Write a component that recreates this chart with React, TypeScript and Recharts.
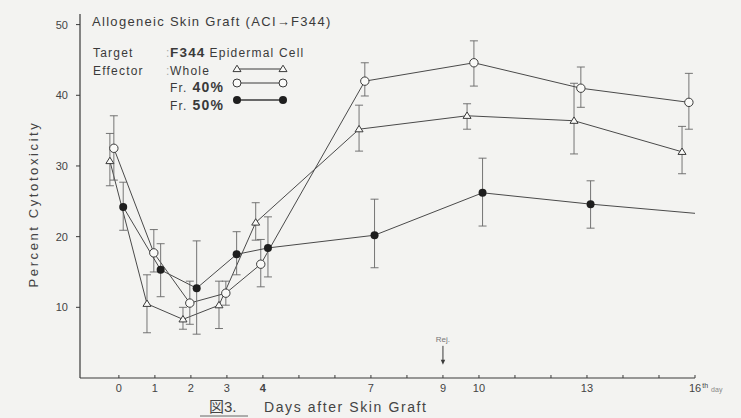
import React from "react";
import {
  ComposedChart,
  Line,
  XAxis,
  YAxis,
  ErrorBar,
  Legend,
  ReferenceDot,
} from "recharts";

// Whole effector cells (open triangles)
const wholeDays = [-0.25, 0.78, 1.78, 2.78, 3.8, 6.67, 9.67, 12.64, 15.64];
const wholeValues = [30.7, 10.5, 8.3, 10.3, 22.0, 35.2, 37.1, 36.4, 32.0];
const wholeLow = [27.2, 6.4, 6.9, 7.0, 19.5, 32.1, 35.2, 31.7, 28.9];
const wholeHigh = [34.6, 14.6, 10.0, 13.7, 24.8, 38.6, 38.8, 41.7, 35.6];

// Fr. 40% (open circles)
const fr40Days = [-0.14, 0.97, 1.97, 2.97, 3.94, 6.83, 9.86, 12.83, 15.83];
const fr40Values = [32.5, 17.7, 10.6, 12.0, 16.1, 42.0, 44.6, 41.0, 39.0];
const fr40Low = [28.0, 15.0, 7.6, 10.3, 12.9, 39.9, 41.3, 38.3, 35.2];
const fr40High = [37.1, 21.0, 13.7, 13.7, 19.6, 44.6, 47.7, 44.0, 43.1];

// Fr. 50% (filled circles) - last point has no marker
const fr50Days = [0.12, 1.16, 2.16, 3.27, 4.14, 7.1, 10.1, 13.1, 16.0];
const fr50Values = [24.2, 15.3, 12.7, 17.5, 18.4, 20.2, 26.2, 24.6, 23.3];
const fr50Low = [20.9, 11.5, 6.2, 14.6, 14.3, 15.6, 21.5, 21.2, null];
const fr50High = [27.7, 19.0, 19.4, 20.7, 22.8, 25.3, 31.1, 27.9, null];

const xTicks = [0, 1, 2, 3, 4, 5, 6, 7, 8, 9, 10, 11, 12, 13, 14, 15, 16];
const labelledDays = [0, 1, 2, 3, 4, 7, 9, 10, 13, 16];
const yTicks = [10, 20, 30, 40, 50];
const rejectionDay = 9;

const BG = "#f3f3f1";
const INK = "#3a3a3a";
const FONT = '"Liberation Sans", Arial, "Noto Sans CJK JP", sans-serif';

function buildSeries(
  days: number[],
  values: number[],
  low: (number | null)[],
  high: (number | null)[]
) {
  return days.map((day, i) => ({
    day,
    value: values[i],
    err:
      low[i] == null
        ? null
        : [values[i] - (low[i] as number), (high[i] as number) - values[i]],
  }));
}

const wholeData = buildSeries(wholeDays, wholeValues, wholeLow, wholeHigh);
const fr40Data = buildSeries(fr40Days, fr40Values, fr40Low, fr40High);
const fr50Data = buildSeries(fr50Days, fr50Values, fr50Low, fr50High);

function triPoints(cx: number, cy: number) {
  return `${cx},${cy - 3.8} ${cx - 4},${cy + 2.6} ${cx + 4},${cy + 2.6}`;
}

function TriangleDot(props: any) {
  const { cx, cy, index } = props;
  if (cx == null || cy == null) return <g key={`t-${index}`} />;
  return (
    <polygon
      key={`t-${index}`}
      points={triPoints(cx, cy)}
      fill="#fafaf8"
      stroke={INK}
      strokeWidth={1}
    />
  );
}

function OpenDot(props: any) {
  const { cx, cy, index } = props;
  if (cx == null || cy == null) return <g key={`o-${index}`} />;
  return (
    <circle
      key={`o-${index}`}
      cx={cx}
      cy={cy}
      r={4.2}
      fill="#fafaf8"
      stroke={INK}
      strokeWidth={1}
    />
  );
}

function FilledDot(props: any) {
  const { cx, cy, index } = props;
  if (cx == null || cy == null || index === fr50Days.length - 1)
    return <g key={`f-${index}`} />;
  return <circle key={`f-${index}`} cx={cx} cy={cy} r={4} fill="#1e1e1e" />;
}

function DayTick(props: any) {
  const { x, y, payload } = props;
  const day = payload.value;
  const show = labelledDays.includes(day);
  return (
    <g>
      <line x1={x} x2={x} y1={y} y2={y - 3} stroke={INK} strokeWidth={1} />
      {show && day === 16 && (
        <text x={x - 6} y={y + 14} fill="#444" fontSize={11} fontFamily={FONT}>
          16
          <tspan fontSize={7} dy={-4} dx={1}>
            th
          </tspan>
          <tspan fontSize={7} dy={4} dx={3} fill="#888">
            day
          </tspan>
        </text>
      )}
      {show && day !== 16 && (
        <text
          x={x}
          y={y + 14}
          textAnchor="middle"
          fill="#444"
          fontSize={11}
          fontWeight={day === 4 ? "bold" : "normal"}
          fontFamily={FONT}
        >
          {day}
        </text>
      )}
    </g>
  );
}

function YLabel() {
  return (
    <text
      x={35}
      y={204}
      transform="rotate(-90, 35, 204)"
      textAnchor="middle"
      dominantBaseline="middle"
      fontSize={13}
      letterSpacing={2.6}
      fill="#444"
      fontFamily={FONT}
    >
      Percent Cytotoxicity
    </text>
  );
}

function Caption() {
  return (
    <g fontFamily={FONT} fill="#444">
      <text x={209} y={412} fontSize={15}>
        図3.
      </text>
      <line x1={200} x2={248} y1={416} y2={416} stroke="#666" strokeWidth={1} />
      <text x={264} y={412} fontSize={14} letterSpacing={1.6}>
        Days after Skin Graft
      </text>
    </g>
  );
}

function RejMarker(props: any) {
  const { cx, cy } = props;
  if (cx == null || cy == null) return <g />;
  return (
    <g>
      <text
        x={cx}
        y={cy - 22}
        textAnchor="middle"
        fontSize={8}
        fill="#777"
        fontFamily={FONT}
      >
        Rej.
      </text>
      <line x1={cx} x2={cx} y1={cy - 18} y2={cy - 2} stroke={INK} strokeWidth={1} />
      <polygon
        points={`${cx},${cy + 1} ${cx - 2.2},${cy - 4} ${cx + 2.2},${cy - 4}`}
        fill={INK}
      />
    </g>
  );
}

function LegendBlock() {
  const txt = { fontFamily: FONT, fill: "#3a3a3a" };
  return (
    <svg width={260} height={115} style={{ display: "block" }}>
      <text x={6} y={22} fontSize={13} letterSpacing={1.3} {...txt}>
        Allogeneic Skin Graft (ACI→F344)
      </text>
      <g fontSize={12} letterSpacing={1.2}>
        <text x={7} y={53} {...txt}>
          Target
        </text>
        <text x={80} y={53} {...txt} fill="#aaa">
          :
        </text>
        <text x={84} y={53} {...txt}>
          <tspan fontWeight="bold" fontSize={13.5}>F344</tspan>
          <tspan dx={4}>Epidermal Cell</tspan>
        </text>
        <text x={7} y={71} {...txt}>
          Effector
        </text>
        <text x={80} y={71} {...txt} fill="#aaa">
          :
        </text>
        <text x={84} y={71} {...txt}>
          Whole
        </text>
        <text x={84} y={88} {...txt}>
          Fr.
          <tspan dx={5} fontWeight="bold" fontSize={14}>40%</tspan>
        </text>
        <text x={84} y={106} {...txt}>
          Fr.
          <tspan dx={5} fontWeight="bold" fontSize={14}>50%</tspan>
        </text>
      </g>
      <line x1={151} x2={197} y1={65} y2={65} stroke={INK} strokeWidth={1} />
      <polygon points={triPoints(151, 65)} fill="#fafaf8" stroke={INK} />
      <polygon points={triPoints(197, 65)} fill="#fafaf8" stroke={INK} />
      <line x1={151} x2={197} y1={79} y2={79} stroke={INK} strokeWidth={1} />
      <circle cx={151} cy={79} r={4} fill="#fafaf8" stroke={INK} />
      <circle cx={197} cy={79} r={4} fill="#fafaf8" stroke={INK} />
      <line x1={151} x2={197} y1={96} y2={96} stroke={INK} strokeWidth={1.3} />
      <circle cx={151} cy={96} r={4} fill="#1e1e1e" />
      <circle cx={197} cy={96} r={4} fill="#1e1e1e" />
    </svg>
  );
}

export default function App() {
  return (
    <div
      style={{
        position: "absolute",
        left: 0,
        top: 0,
        width: 741,
        height: 418,
        background: BG,
      }}
    >
      <ComposedChart
        width={741}
        height={418}
        margin={{ top: 14, right: 46, bottom: 0, left: 30 }}
      >
        <XAxis
          type="number"
          dataKey="day"
          domain={[-1.08, 16]}
          ticks={xTicks}
          allowDataOverflow
          height={40}
          tickSize={0}
          tickMargin={0}
          tickLine={false}
          axisLine={{ stroke: INK, strokeWidth: 1.2 }}
          tick={DayTick}
          label={{ content: Caption }}
        />
        <YAxis
          type="number"
          domain={[0, 51.5]}
          ticks={yTicks}
          allowDataOverflow
          width={50}
          tickSize={4}
          tickMargin={8}
          tickLine={{ stroke: INK }}
          axisLine={{ stroke: INK, strokeWidth: 1.2 }}
          tick={{ fontSize: 11, fill: "#444", fontFamily: FONT }}
          label={{ content: YLabel }}
        />
        <Legend
          layout="vertical"
          align="center"
          verticalAlign="middle"
          content={LegendBlock}
          wrapperStyle={{ position: "absolute", left: 86, top: 4, width: 260, height: 115 }}
        />
        <Line
          data={wholeData}
          dataKey="value"
          name="Whole"
          type="linear"
          stroke="#4a4a4a"
          strokeWidth={1}
          dot={TriangleDot}
          activeDot={false}
          isAnimationActive={false}
        >
          <ErrorBar dataKey="err" direction="y" width={4} stroke="#666" strokeWidth={0.9} />
        </Line>
        <Line
          data={fr40Data}
          dataKey="value"
          name="Fr. 40%"
          type="linear"
          stroke="#4a4a4a"
          strokeWidth={1}
          dot={OpenDot}
          activeDot={false}
          isAnimationActive={false}
        >
          <ErrorBar dataKey="err" direction="y" width={4} stroke="#666" strokeWidth={0.9} />
        </Line>
        <Line
          data={fr50Data}
          dataKey="value"
          name="Fr. 50%"
          type="linear"
          stroke="#4a4a4a"
          strokeWidth={1}
          dot={FilledDot}
          activeDot={false}
          isAnimationActive={false}
        >
          <ErrorBar dataKey="err" direction="y" width={4} stroke="#666" strokeWidth={0.9} />
        </Line>
        <ReferenceDot
          x={rejectionDay}
          y={2}
          r={0}
          ifOverflow="visible"
          shape={RejMarker}
        />
      </ComposedChart>
    </div>
  );
}
